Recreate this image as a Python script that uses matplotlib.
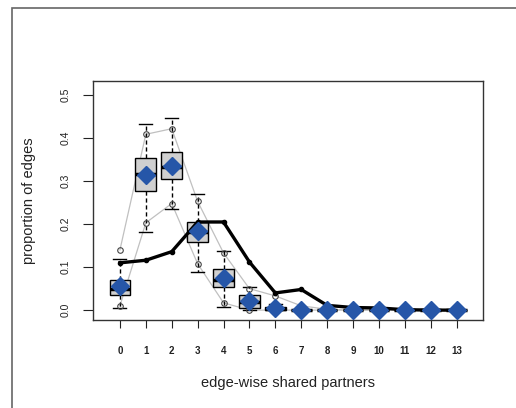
import numpy as np
import matplotlib.pyplot as plt
from matplotlib.patches import Rectangle

plt.rcParams['font.family'] = ['Liberation Sans', 'DejaVu Sans']

# edge-wise shared partners 0..13
esp = np.arange(14)

# simulated distribution summary
q1 = [0.035, 0.277, 0.306, 0.159, 0.054, 0.004, 0.000, 0, 0, 0, 0, 0, 0, 0]
med = [0.048, 0.316, 0.333, 0.181, 0.070, 0.019, 0.002, 0, 0, 0, 0, 0, 0, 0]
q3 = [0.070, 0.353, 0.367, 0.205, 0.095, 0.035, 0.008, 0, 0, 0, 0, 0, 0, 0]
wlo = [0.004, 0.181, 0.236, 0.089, 0.008, 0.000, 0.000, 0, 0, 0, 0, 0, 0, 0]
whi = [0.119, 0.434, 0.448, 0.271, 0.137, 0.054, 0.015, 0, 0, 0, 0, 0, 0, 0]
means = [0.057, 0.315, 0.336, 0.183, 0.075, 0.022, 0.005, 0.001, 0.0, 0.0, 0.0, 0.0, 0.0, 0.0]

# observed network
obs = [0.110, 0.116, 0.136, 0.205, 0.205, 0.112, 0.040, 0.048, 0.011, 0.006, 0.005, 0.001, 0.0, 0.0]

# 2.5% / 97.5% lines
lo = [0.010, 0.203, 0.248, 0.108, 0.017, 0.0, 0.0, 0.0, 0.0, 0.0, 0.0, 0.0, 0.0, 0.0]
hi = [0.140, 0.409, 0.422, 0.253, 0.133, 0.050, 0.033, 0.010, 0.002, 0.0, 0.0, 0.0, 0.0, 0.0]

fig = plt.figure(figsize=(5.16, 4.08), dpi=100)
ax = fig.add_axes([93/516, 1-320/408, (483-93)/516, (320-81)/408])

# outer frame, cut off at right and bottom
fig.add_artist(Rectangle((12/516, -0.1), 2, (408-8)/408 + 0.1, transform=fig.transFigure,
                         fill=False, ec='#666666', lw=1.2))

stats = []
for i in range(len(esp)):
    stats.append(dict(q1=q1[i], med=med[i], q3=q3[i], whislo=wlo[i], whishi=whi[i], fliers=[]))

ax.plot(esp, lo, '-', color='#c0c0c0', lw=0.9, zorder=1)
ax.plot(esp, hi, '-', color='#c0c0c0', lw=0.9, zorder=1)

ax.bxp(stats, positions=esp, widths=0.8, patch_artist=True, showfliers=False,
       boxprops=dict(facecolor='#d0d0d0', edgecolor='black', lw=1),
       medianprops=dict(color='black', lw=2.5),
       whiskerprops=dict(color='black', lw=1, linestyle=(0, (3, 2))),
       capprops=dict(color='black', lw=1), capwidths=0.5, manage_ticks=False)

ax.plot(esp, lo, 'o', mfc='none', mec='#444444', ms=4, mew=0.8, zorder=3)
ax.plot(esp, hi, 'o', mfc='none', mec='#444444', ms=4, mew=0.8, zorder=3)

ax.plot(esp, obs, '-o', color='black', lw=2.4, ms=3, zorder=4)
ax.plot(esp, means, 'D', color='#2656a8', ms=9, zorder=5)

ax.set_xlim(-1.04, 14.02)
ax.set_ylim(-0.023, 0.533)
ax.set_xticks(esp)
ax.set_xticklabels([str(v) for v in esp], fontsize=7, fontweight='bold', color='#222222')
ax.set_yticks([0.0, 0.1, 0.2, 0.3, 0.4, 0.5])
ax.set_yticklabels(['0.0', '0.1', '0.2', '0.3', '0.4', '0.5'], rotation=90, va='center',
                   fontsize=7.5, color='#222222')
ax.tick_params(axis='x', length=6, pad=13, color='#222222')
ax.tick_params(axis='y', length=7, pad=9, color='#222222')
for s in ax.spines.values():
    s.set_color('#333333')
    s.set_linewidth(1)

ax.set_xlabel('edge-wise shared partners', fontsize=10.5, labelpad=14, color='#222222')
ax.set_ylabel('proportion of edges', fontsize=10.5, labelpad=18, color='#222222')

fig.savefig('out.png', dpi=100)
